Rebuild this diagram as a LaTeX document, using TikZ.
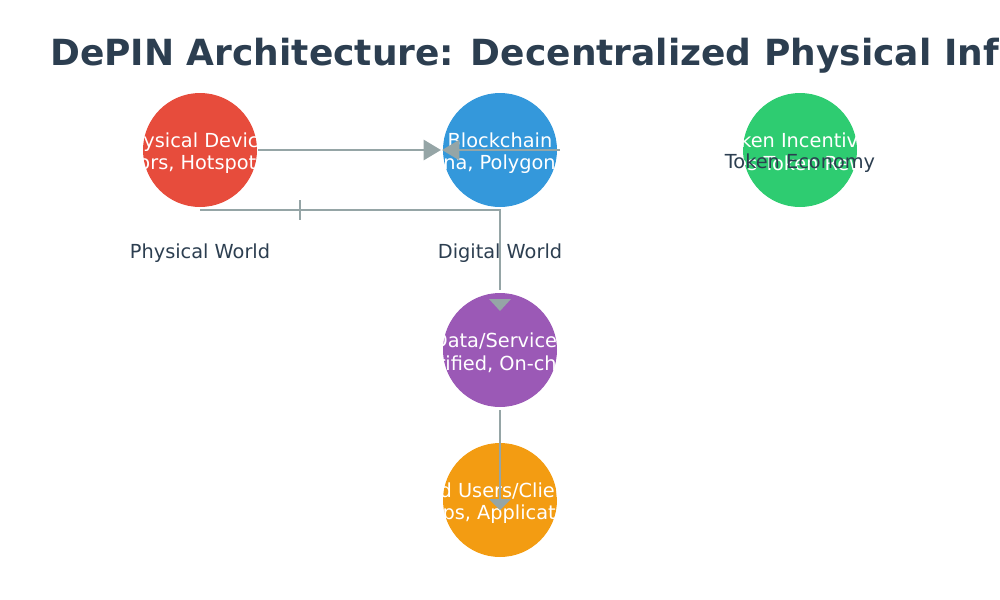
\documentclass[tikz,border=0pt]{standalone}
\usepackage{fontspec}
\setmainfont{DejaVu Sans}
\usetikzlibrary{arrows.meta}
\definecolor{ln}{HTML}{95A5A6}
\definecolor{tx}{HTML}{2C3E50}
\definecolor{cr}{HTML}{E74C3C}
\definecolor{cb}{HTML}{3498DB}
\definecolor{cg}{HTML}{2ECC71}
\definecolor{cp}{HTML}{9B59B6}
\definecolor{co}{HTML}{F39C12}
\begin{document}
\begin{tikzpicture}[x=0.75pt,y=-0.75pt,
  circ/.style={circle,minimum size=85.5pt,inner sep=0pt},
  ctext/.style={text=white,font=\fontsize{14.5}{17}\selectfont,align=center,inner sep=0pt},
  lbl/.style={text=tx,font=\fontsize{14.5}{17}\selectfont},
  conn/.style={draw=ln,line width=2pt},
  tip/.style={-{Triangle[length=13pt,width=15pt]}}]
\useasboundingbox (0,0) rectangle (1000,600);
\node[anchor=base west,inner sep=0pt,text=tx,font=\bfseries\fontsize{27}{30}\selectfont] (title) at (50,65) {DePIN Architecture: Decentralized Physical Infrastructure};
\node[circ,fill=cr] (dev) at (200,150) {};
\node[circ,fill=cb] (bc) at (500,150) {};
\node[circ,fill=cg] (tok) at (800,150) {};
\node[circ,fill=cp] (data) at (500,350) {};
\node[circ,fill=co] (users) at (500,500) {};
\node[ctext] (devt) at (200,153) {Physical Devices\\(Sensors, Hotspots, IoT)};
\node[ctext] (bct) at (500,153) {Blockchain\\(Solana, Polygon, etc)};
\node[ctext] (tokt) at (800,153) {Token Incentives\\(Stakes Token Rewards)};
\node[ctext] (datat) at (500,353) {Data/Services\\(Verified, On-chain)};
\node[ctext] (userst) at (500,503) {End Users/Clients\\(dApps, Applications)};
\node[lbl] (pw) at (200,253) {Physical World};
\node[lbl] (dw) at (500,253) {Digital World};
\node[lbl] (te) at (800,163) {Token Economy};
\coordinate (a1) at (258,150);
\coordinate (a2) at (441,150);
\coordinate (b1) at (560,150);
\coordinate (b2) at (442,150);
\draw[conn,tip] (a1) -- (a2);
\draw[conn,tip] (b1) -- (b2);
\coordinate (c1) at (200,210);
\coordinate (c2) at (500,210);
\coordinate (c3) at (500,290);
\coordinate (c4) at (500,311);
\draw[conn] (c1) -- (c2) -- (c3);
\fill[ln] (489,299) -- (511,299) -- (c4) -- cycle;
\coordinate (t1) at (300,200);
\coordinate (t2) at (300,220);
\draw[conn] (t1) -- (t2);
\coordinate (d1) at (500,410);
\coordinate (d2) at (500,510);
\draw[conn] (d1) -- (500,500);
\fill[ln] (489,499) -- (511,499) -- (d2) -- cycle;
\end{tikzpicture}
\end{document}
